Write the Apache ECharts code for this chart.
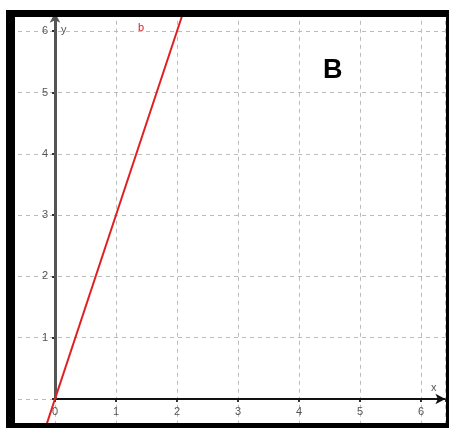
<!DOCTYPE html>
<html>
<head>
<meta charset="utf-8">
<script src="https://cdn.jsdelivr.net/npm/echarts@6/dist/echarts.min.js"></script>
<style>html,body{margin:0;padding:0;background:#fff}#c{width:449px;height:428px}</style>
</head>
<body>
<div id="c"></div>
<script>
// data
const lineX = [-0.2, 2.1];
const lineY = [-0.6, 6.3];
const xTicks = [0, 1, 2, 3, 4, 5, 6];
const yTicks = [1, 2, 3, 4, 5, 6];
const xRange = [-1, 6.4];
const yRange = [-1, 6.3];

const chart = echarts.init(document.getElementById('c'), null, {renderer: 'canvas'});
const labelFont = {color: '#555', fontSize: 11, fontFamily: 'Liberation Sans, Arial, sans-serif'};

chart.setOption({
  animation: false,
  backgroundColor: '#fff',
  grid: {left: -6, right: 3.6, top: 12.8, bottom: -32.3, containLabel: false, outerBoundsMode: 'none'},
  xAxis: {
    type: 'value', min: xRange[0], max: xRange[1], interval: 1,
    position: 'bottom', offset: -61.3,
    axisLine: {show: true, onZero: false, lineStyle: {opacity: 0}},
    axisTick: {show: true, length: 3, lineStyle: {color: '#333', width: 2}},
    axisLabel: Object.assign({margin: 7, showMinLabel: true, showMaxLabel: true, hideOverlap: false,
      formatter: v => xTicks.includes(v) ? String(v) : ''}, labelFont),
    splitLine: {show: true, lineStyle: {color: '#bbb', type: [4, 4], width: 1}}
  },
  yAxis: {
    type: 'value', min: yRange[0], max: yRange[1], interval: 1,
    position: 'left', offset: -61,
    axisLine: {show: true, onZero: false, lineStyle: {opacity: 0}},
    axisTick: {show: true, length: 3, lineStyle: {color: '#333', width: 2}},
    axisLabel: Object.assign({margin: 7, showMinLabel: true, showMaxLabel: true, hideOverlap: false,
      formatter: v => yTicks.includes(v) ? String(v) : ''}, labelFont),
    splitLine: {show: true, lineStyle: {color: '#bbb', type: [4, 4], width: 1}}
  },
  series: [
    {
      type: 'line',
      data: lineX.map((x, i) => [x, lineY[i]]),
      symbol: 'none',
      lineStyle: {color: '#e02020', width: 2},
      z: 5,
      markLine: {
        silent: true,
        animation: false,
        label: {show: false},
        symbolSize: [8, 10],
        data: [
          [{coord: [0, 0], symbol: 'none', lineStyle: {color: '#111', width: 2, type: 'solid'}},
           {coord: [xRange[1], 0], symbol: 'arrow'}],
          [{coord: [0, 0], symbol: 'none', lineStyle: {color: '#555', width: 3, type: 'solid'}},
           {coord: [0, yRange[1]], symbol: 'arrow'}]
        ]
      }
    }
  ],
  graphic: [
    {type: 'text', left: 138, top: 22, style: {text: 'b', fill: '#e02020', font: '11px Liberation Sans, Arial, sans-serif'}, z: 10},
    {type: 'text', left: 61, top: 24, style: {text: 'y', fill: '#555', font: '11px Liberation Sans, Arial, sans-serif'}, z: 10},
    {type: 'text', left: 431, top: 382, style: {text: 'x', fill: '#555', font: '11px Liberation Sans, Arial, sans-serif'}, z: 10},
    {type: 'text', left: 323, top: 57, style: {text: 'B', fill: '#000', font: 'bold 27px Liberation Sans, Arial, sans-serif'}, z: 10},
    // white outside margins and black frame
    {type: 'rect', shape: {x: 0, y: 0, width: 449, height: 10}, style: {fill: '#fff'}, z: 100},
    {type: 'rect', shape: {x: 0, y: 0, width: 6, height: 428}, style: {fill: '#fff'}, z: 100},
    {type: 'rect', shape: {x: 6, y: 10, width: 443, height: 7}, style: {fill: '#000'}, z: 101},
    {type: 'rect', shape: {x: 6, y: 10, width: 9, height: 418}, style: {fill: '#000'}, z: 101},
    {type: 'rect', shape: {x: 446, y: 10, width: 3, height: 418}, style: {fill: '#000'}, z: 101},
    {type: 'rect', shape: {x: 6, y: 423, width: 443, height: 5}, style: {fill: '#000'}, z: 101}
  ]
});
</script>
</body>
</html>
